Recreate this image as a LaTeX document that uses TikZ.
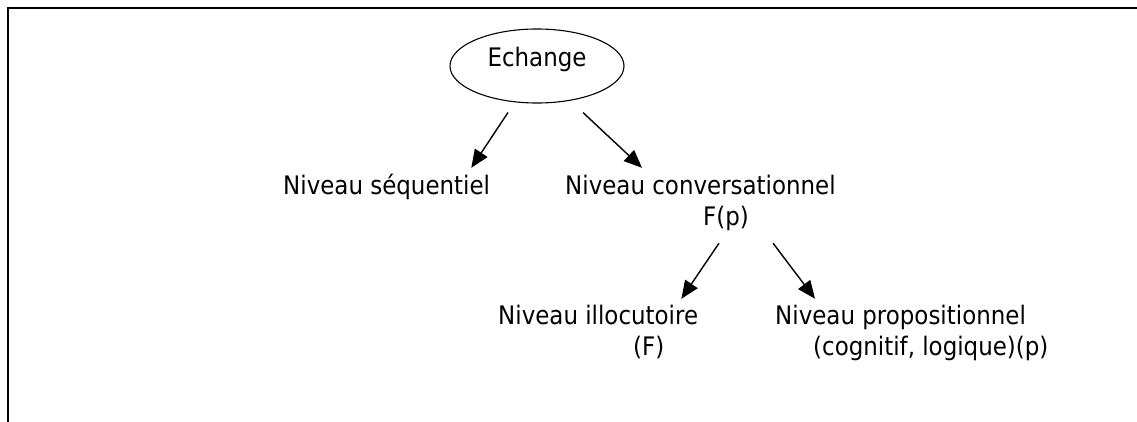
\documentclass[tikz,border=0pt]{standalone}
\usepackage{fontspec}
\setmainfont{DejaVu Sans}[FakeStretch=0.9]
\usetikzlibrary{arrows.meta,shapes.geometric}
\tikzset{
  lbl/.style={anchor=base west, inner sep=0pt, text height=18pt, text depth=5pt},
  arr/.style={line width=1.4pt, -{Triangle[length=18pt,width=15pt]}}
}

\begin{document}
\begin{tikzpicture}[x=1pt, y=-1pt, font=\fontsize{25.5}{31}\selectfont]
			%%%%% START %%%%%
			\useasboundingbox (0,0) rectangle (1137,422);

			\draw[line width=2pt] (1137,8) -- (8,8) -- (8,425);

			\node[draw, ellipse, line width=1.1pt, minimum width=174pt, minimum height=74pt, inner sep=0pt,
			      text height=19pt, text depth=17pt] (ech) at (537,66) {Echange};

			\node[lbl] (seq) at (283,194) {Niveau séquentiel};
			\node[lbl] (conv) at (565,194) {Niveau conversationnel};
			\node[lbl] (convfp) at (703,225) {F(p)};

			\node[lbl] (illoc) at (498,324) {Niveau illocutoire};
			\node[lbl] (illocf) at (633,355) {(F)};
			\node[lbl] (prop) at (775,324) {Niveau propositionnel};
			\node[lbl] (propcl) at (813,355) {(cognitif, logique)(p)};

			\draw[arr] ([shift={(-29,9)}]ech.south) -- ([shift={(-19,-8)}]seq.north east);
			\draw[arr] ([shift={(46,9)}]ech.south) -- ([shift={(77,-8)}]conv.north west);
			\draw[arr] ([shift={(16,13)}]convfp.south west) -- ([shift={(-17,-7)}]illoc.north east);
			\draw[arr] ([shift={(24,13)}]convfp.south east) -- ([shift={(40,-7)}]prop.north west);
			%%%%% END %%%%%
\end{tikzpicture}
\end{document}
